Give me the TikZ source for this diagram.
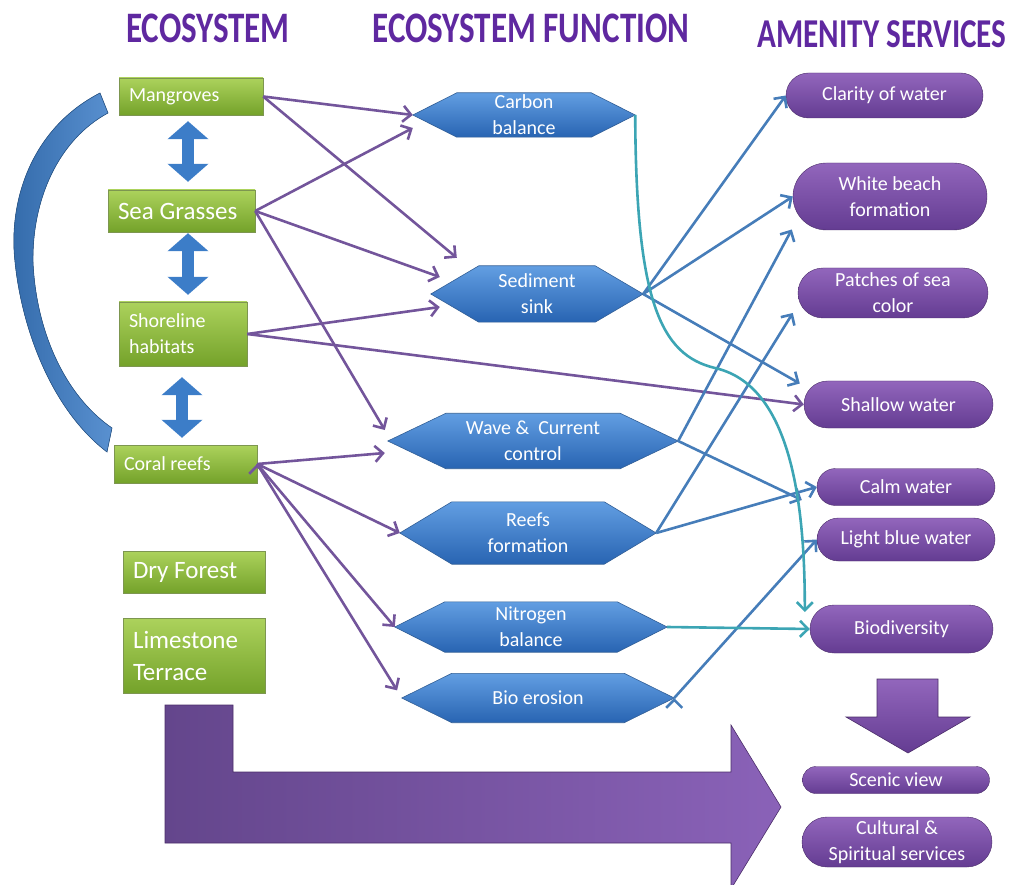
\documentclass[tikz,border=0pt]{standalone}
\usepackage{fontspec}
\setmainfont{Carlito}
\newfontfamily\titlefont[FakeStretch=0.76]{Carlito}
\usetikzlibrary{positioning, arrows.meta, shapes.misc, backgrounds}
\definecolor{ecotop}{RGB}{172,210,92}
\definecolor{ecobot}{RGB}{116,162,42}
\definecolor{ecoline}{RGB}{125,150,80}
\definecolor{functop}{RGB}{98,158,226}
\definecolor{funcbot}{RGB}{40,100,178}
\definecolor{funcline}{RGB}{50,95,150}
\definecolor{servtop}{RGB}{146,102,188}
\definecolor{servbot}{RGB}{100,60,146}
\definecolor{servline}{RGB}{75,45,105}
\definecolor{plink}{RGB}{115,85,155}
\definecolor{blink}{RGB}{70,125,185}
\definecolor{tlink}{RGB}{60,165,180}
\definecolor{arcblue}{RGB}{60,125,200}
\definecolor{titlepurple}{RGB}{95,40,160}
\definecolor{bigleft}{RGB}{100,70,140}
\definecolor{bigright}{RGB}{138,98,184}
\tikzset{
x=1pt, y=-1pt, % pixel grid of the slide
eco/.style={rectangle, draw=ecoline, top color=ecotop, bottom color=ecobot, text=white, align=flush left, inner xsep=10pt, inner ysep=0pt, font=\fontsize{20}{26}\selectfont}, % green ecosystem boxes
big/.style={font=\fontsize{25}{32}\selectfont}, % larger ecosystem text
func/.style={rectangle, text=white, align=center, inner sep=0pt, font=\fontsize{20}{26}\selectfont}, % text of the blue hexagons
hexfill/.style={draw=funcline, line width=0.6pt, top color=functop, bottom color=funcbot}, % hexagon outline
serv/.style={rounded rectangle, draw=servline, top color=servtop, bottom color=servbot, text=white, align=center, inner sep=0pt, font=\fontsize{20}{26}\selectfont}, % purple services
heading/.style={text=titlepurple, font=\titlefont\bfseries\fontsize{43.5}{44}\selectfont}, % column titles
link/.style={line width=2.6pt, -{Straight Barb[length=8pt,width=16pt]}}, % all connectors
updown/.style={draw=arcblue, line width=12pt, {Triangle[width=40pt,length=18pt]}-{Triangle[width=40pt,length=18pt]}}, % block arrows in the left column
}
\begin{document}
\begin{tikzpicture}
  \useasboundingbox (0,0) rectangle (1018,885);
  % titles
  \node[heading] (t1) at (208,28) {ECOSYSTEM};
  \node[heading] (t2) at (531,28) {ECOSYSTEM FUNCTION};
  \node[heading, font=\titlefont\bfseries\fontsize{41}{44}\selectfont] (t3) at (882,34) {AMENITY SERVICES};

  % ecosystems
  \node[eco, text width=124pt, minimum height=37pt] (mang) at (191,96.5) {Mangroves};
  \node[eco, big, text width=127pt, minimum height=42pt] (sea) at (181.5,211) {Sea Grasses};
  \node[eco, text width=108pt, minimum height=64pt] (shore) at (183,334) {Shoreline\\habitats};
  \node[eco, text width=123pt, minimum height=38pt] (coral) at (185.5,464) {Coral reefs};
  \node[eco, big, text width=122pt, minimum height=42pt] (dry) at (194,572) {Dry Forest};
  \node[eco, big, text width=122pt, minimum height=75pt] (lime) at (194,655.5) {Limestone\\Terrace};

  % functions
  \node[func, minimum width=222pt, minimum height=44pt] (carb) at (524,115) {Carbon\\balance};
  \node[func, minimum width=212pt, minimum height=56pt] (sed) at (537,294) {Sediment\\sink};
  \node[func, minimum width=290pt, minimum height=55pt] (wave) at (533,441) {Wave \&~ Current\\control};
  \node[func, minimum width=256pt, minimum height=62pt] (reef) at (528,533) {Reefs\\formation};
  \node[func, minimum width=272pt, minimum height=50pt] (nitro) at (531,627) {Nitrogen\\balance};
  \node[func, minimum width=272pt, minimum height=49pt] (bio) at (538,698) {Bio erosion};
  \begin{scope}[on background layer]
    \foreach \h/\d in {carb/44, sed/48, wave/58, reef/52, nitro/50, bio/50}
      \path[hexfill] (\h.west) -- ([xshift=\d pt]\h.north west) -- ([xshift=-\d pt]\h.north east) -- (\h.east)
        -- ([xshift=-\d pt]\h.south east) -- ([xshift=\d pt]\h.south west) -- cycle;
  \end{scope}

  % services
  \node[serv, minimum width=197pt, minimum height=45pt] (clar) at (884.5,95.5) {Clarity of water};
  \node[serv, minimum width=194pt, minimum height=67pt] (white) at (890,196.5) {White beach\\formation};
  \node[serv, minimum width=190pt, minimum height=50pt] (patch) at (893,293) {Patches of sea\\color};
  \node[serv, minimum width=189pt, minimum height=47pt] (shal) at (898.5,404.5) {Shallow water};
  \node[serv, minimum width=178pt, minimum height=37pt] (calm) at (906,487) {Calm water};
  \node[serv, minimum width=178pt, minimum height=43pt] (light) at (906,539.5) {Light blue water};
  \node[serv, minimum width=183pt, minimum height=48pt] (biod) at (901.5,629) {Biodiversity};
  \node[serv, minimum width=187pt, minimum height=27pt] (scenic) at (896,780) {Scenic view};
  \node[serv, minimum width=190pt, minimum height=50pt] (cult) at (897,842) {Cultural \&\\Spiritual services};

  % left arc and block arrows
  \fill[left color=arcblue!85!black, right color=arcblue!85!white, draw=arcblue!70!black, line width=0.6pt]
    (100,93) .. controls (32,128) and (8,200) .. (15,262) .. controls (22,330) and (52,410) .. (107,452)
    -- (112,428) .. controls (64,395) and (36,330) .. (33,262) .. controls (32,200) and (58,140) .. (108,113) -- cycle;
  \coordinate (axA) at (188,0);
  \coordinate (axB) at (182,0);
  \draw[updown, shorten <=6pt, shorten >=8pt] (mang.south -| axA) -- (sea.north -| axA);
  \draw[updown, shorten <=1pt, shorten >=7pt] (sea.south -| axA) -- (shore.north -| axA);
  \draw[updown, shorten <=11pt, shorten >=7pt] (shore.south -| axB) -- (coral.north -| axB);

  % ecosystem -> function
  \draw[link, draw=plink] (mang.east) edge (carb.west)
    (mang.east) edge ([xshift=26pt,yshift=8pt]sed.north west)
    (sea.east) edge ([yshift=-13pt]carb.west)
    (sea.east) edge ([xshift=9pt,yshift=17pt]sed.west)
    (sea.east) edge ([xshift=-3pt,yshift=11pt]wave.west)
    (shore.east) edge ([xshift=9pt,yshift=-13pt]sed.west)
    (shore.east) edge (shal.west)
    (coral.east) edge ([xshift=-3pt,yshift=-12pt]wave.west)
    (coral.east) edge (reef.west)
    (coral.east) edge (nitro.west)
    (coral.east) edge[shorten >=9pt] (bio.west);

  % function -> service
  \draw[link, draw=blink] (sed.east) edge (clar.west)
    (sed.east) edge (white.west)
    (sed.east) edge ([xshift=-4pt,yshift=21pt]shal.west)
    (wave.east) edge ([xshift=-1pt,yshift=-33pt]white.west)
    (wave.east) edge ([xshift=-15pt,yshift=-13pt]calm.west)
    (reef.east) edge ([xshift=-5pt,yshift=-20pt]patch.west)
    (reef.east) edge (calm.west)
    (bio.east) edge (light.west);
  \draw[link, draw=tlink] (carb.east) .. controls (636,300) and (660,355) .. (715,368)
    .. controls (790,385) and (805,500) .. ([xshift=-5pt,yshift=17pt]biod.west);
  \draw[link, draw=tlink] (nitro.east) -- (biod.west);

  % block arrows towards the scenic services
  \draw[servline, line width=0.6pt, top color=servtop, bottom color=servbot]
    (877,679) -- (938,679) -- (938,717) -- (970,717) -- (908,753) -- (846,717) -- (877,717) -- cycle;
  \draw[servline, line width=0.6pt, left color=bigleft, right color=bigright]
    (165,705) -- (233,705) -- (233,772) -- (731,772) -- (731,725) -- (781,807)
    -- (731,889) -- (731,843) -- (165,843) -- cycle;
\end{tikzpicture}
\end{document}
